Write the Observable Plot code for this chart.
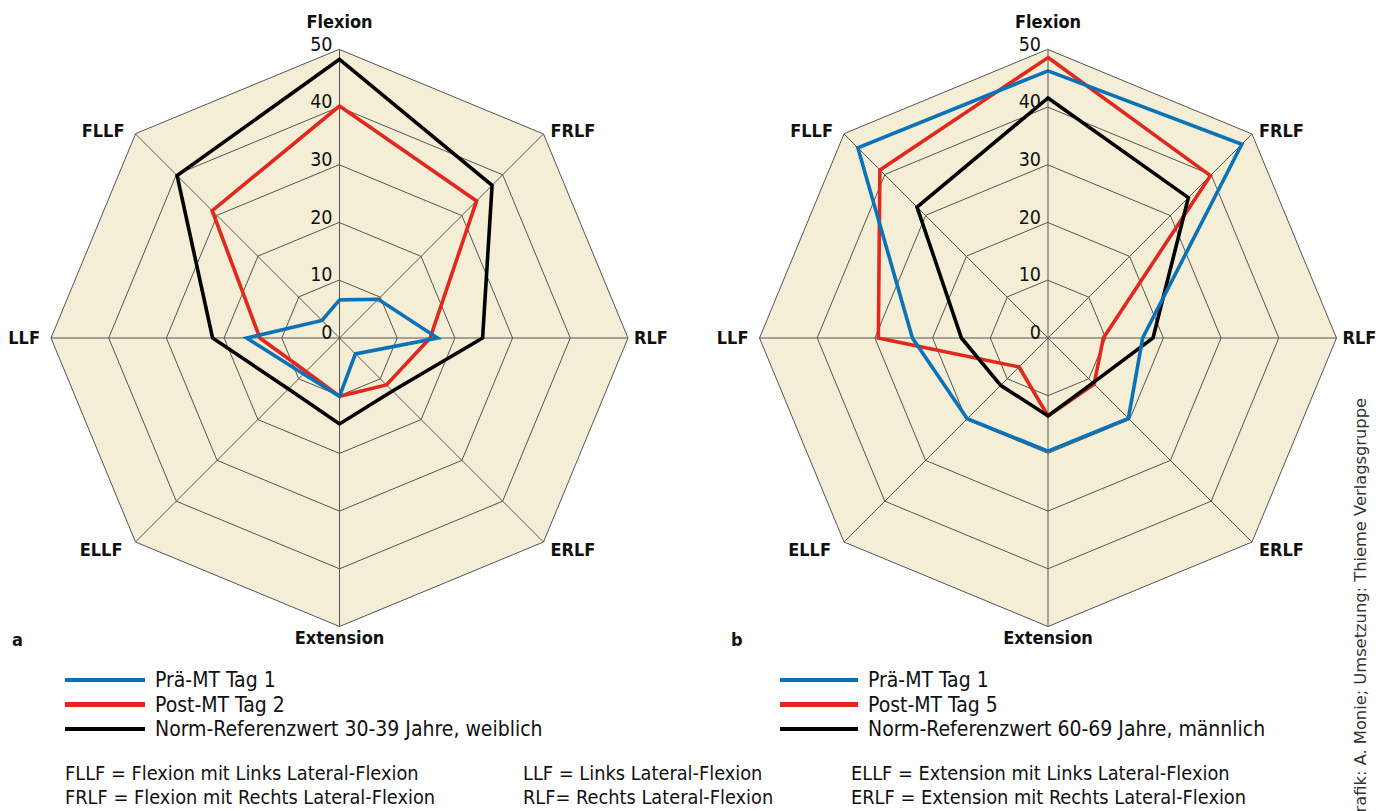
<!DOCTYPE html>
<html>
<head>
<meta charset="utf-8">
<script src="https://cdn.jsdelivr.net/npm/d3@7"></script>
<script src="https://cdn.jsdelivr.net/npm/@observablehq/plot@0.6"></script>
<style>
  html, body { margin: 0; padding: 0; background: #fff; }
  body { width: 1386px; height: 811px; overflow: hidden; position: relative;
         font-family: "DejaVu Sans Condensed", "DejaVu Sans", sans-serif; font-stretch: condensed; color: #111; }
  .chart { position: absolute; top: 0; }
  .row { position: absolute; height: 24px; display: flex; align-items: center; font-size: 21px; white-space: nowrap; }
  .sw { display: inline-block; height: 4.5px; margin-right: 10px; }
  .txt { position: absolute; font-size: 19.8px; white-space: nowrap; line-height: 24px; }
  .panel { position: absolute; font-weight: bold; font-size: 18px; line-height: 20px; }
  .credit { position: absolute; left: 1351px; top: 398px; writing-mode: vertical-rl; transform: rotate(180deg);
            font-family: "DejaVu Sans", sans-serif; font-stretch: normal; font-size: 16.3px; line-height: 20px; color: #333; white-space: nowrap; }
</style>
</head>
<body>
<div id="left" class="chart" style="left:0px"></div>
<div id="right" class="chart" style="left:700px"></div>
<div class="panel" style="left:12px; top:630px">a</div>
<div class="panel" style="left:731px; top:630px">b</div>
<div id="legendA"></div>
<div id="legendB"></div>
<div class="txt" style="left:65px; top:762px">FLLF = Flexion mit Links Lateral-Flexion</div>
<div class="txt" style="left:65px; top:786px">FRLF = Flexion mit Rechts Lateral-Flexion</div>
<div class="txt" style="left:523px; top:762px">LLF = Links Lateral-Flexion</div>
<div class="txt" style="left:523px; top:786px">RLF= Rechts Lateral-Flexion</div>
<div class="txt" style="left:851px; top:762px">ELLF = Extension mit Links Lateral-Flexion</div>
<div class="txt" style="left:851px; top:786px">ERLF = Extension mit Rechts Lateral-Flexion</div>
<div class="credit">Grafik: A. Monie; Umsetzung: Thieme Verlagsgruppe</div>
<script>
// ---- data ----
const axes = ["Flexion", "FRLF", "RLF", "ERLF", "Extension", "ELLF", "LLF", "FLLF"];
const ringValues = [10, 20, 30, 40, 50];
const tickValues = [0, 10, 20, 30, 40, 50];

const seriesA = ["Prä-MT Tag 1", "Post-MT Tag 2", "Norm-Referenzwert 30-39 Jahre, weiblich"];
const praeA = [6.6, 9.5, 17.0, 3.9, 10.1, 8.8, 16.1, 4.3];
const postA = [40.2, 33.6, 15.7, 11.5, 10.1, 8.2, 13.8, 31.2];
const normA = [48.3, 37.4, 24.8, 13.0, 14.9, 12.5, 22.0, 39.8];

const seriesB = ["Prä-MT Tag 1", "Post-MT Tag 5", "Norm-Referenzwert 60-69 Jahre, männlich"];
const praeB = [46.3, 47.5, 16.4, 19.7, 19.6, 19.8, 23.5, 46.6];
const postB = [48.6, 39.8, 9.6, 11.3, 13.5, 7.1, 29.4, 41.2];
const normB = [41.6, 34.4, 18.2, 11.0, 13.5, 11.6, 15.0, 32.1];

const colors = ["#0a72b9", "#e2281d", "#000000"];

// ---- helpers ----
const ang = i => i * Math.PI / 4;
const px = (v, i) => v * Math.sin(ang(i));
const py = (v, i) => v * Math.cos(ang(i));
const maxV = 50;

function radar({cx, cy, width, height, names, prae, post, norm}) {
  const k = 5.77;
  const rings = ringValues.flatMap(r => axes.map((a, i) => ({ring: r, x: px(r, i), y: py(r, i)})));
  const outer = axes.map((a, i) => ({x: px(maxV, i), y: py(maxV, i)}));
  const spokes = axes.map((a, i) => ({axis: a, x: px(maxV, i), y: py(maxV, i)}));
  // draw order: post (red), norm (black), prae (blue)
  const lines = [
    ...post.map((v, i) => ({series: names[1], x: px(v, i), y: py(v, i)})),
    ...norm.map((v, i) => ({series: names[2], x: px(v, i), y: py(v, i)})),
    ...prae.map((v, i) => ({series: names[0], x: px(v, i), y: py(v, i)}))
  ];
  const lbl = name => spokes.filter(d => d.axis === name);
  const bold = {fontWeight: "bold", fontSize: 18, fill: "#111", text: "axis"};
  return Plot.plot({
    width, height, margin: 0,
    x: {domain: [-cx / k, (width - cx) / k], axis: null},
    y: {domain: [-(height - cy) / k, cy / k], axis: null},
    color: {domain: names, range: colors},
    style: {fontFamily: '"DejaVu Sans Condensed", "DejaVu Sans", sans-serif', background: "transparent", overflow: "visible"},
    marks: [
      Plot.line(outer, {x: "x", y: "y", curve: "linear-closed", fill: "#f4eed6", stroke: "none"}),
      Plot.line(rings, {x: "x", y: "y", z: "ring", curve: "linear-closed", stroke: "#555", strokeWidth: 1}),
      Plot.link(spokes, {x1: () => 0, y1: () => 0, x2: "x", y2: "y", stroke: "#555", strokeWidth: 1}),
      Plot.line(lines, {x: "x", y: "y", z: "series", stroke: "series", curve: "linear-closed", strokeWidth: 3.6, strokeLinejoin: "miter", strokeMiterlimit: 3}),
      Plot.text(tickValues, {x: () => 0, y: d => d, text: d => String(d), textAnchor: "end", lineAnchor: "bottom", dx: -7, dy: 1, fontSize: 19.5, fill: "#111"}),
      Plot.text(lbl("Flexion"), {x: "x", y: "y", ...bold, dy: -27}),
      Plot.text(lbl("Extension"), {x: "x", y: "y", ...bold, dy: 12}),
      Plot.text(lbl("FLLF"), {x: "x", y: "y", ...bold, textAnchor: "end", dx: -11, dy: -3}),
      Plot.text(lbl("LLF"), {x: "x", y: "y", ...bold, textAnchor: "end", dx: -11, dy: 0}),
      Plot.text(lbl("ELLF"), {x: "x", y: "y", ...bold, textAnchor: "end", dx: -13, dy: 8}),
      Plot.text(lbl("FRLF"), {x: "x", y: "y", ...bold, textAnchor: "start", dx: 7, dy: -3}),
      Plot.text(lbl("RLF"), {x: "x", y: "y", ...bold, textAnchor: "start", dx: 6, dy: 0}),
      Plot.text(lbl("ERLF"), {x: "x", y: "y", ...bold, textAnchor: "start", dx: 7, dy: 8})
    ]
  });
}

document.getElementById("left").append(radar({cx: 339, cy: 337.5, width: 700, height: 660, names: seriesA, prae: praeA, post: postA, norm: normA}));
document.getElementById("right").append(radar({cx: 347.5, cy: 337.5, width: 686, height: 660, names: seriesB, prae: praeB, post: postB, norm: normB}));

function legend(id, names, left, swLen) {
  const el = document.getElementById(id);
  names.forEach((n, i) => {
    const row = document.createElement("div");
    row.className = "row";
    row.style.left = left + "px";
    row.style.top = (668 + i * 24.5) + "px";
    const sw = document.createElement("span");
    sw.className = "sw";
    sw.style.width = swLen + "px";
    sw.style.background = colors[i];
    const t = document.createElement("span");
    t.textContent = n;
    row.append(sw, t);
    el.append(row);
  });
}
legend("legendA", seriesA, 65, 80);
legend("legendB", seriesB, 780, 78);
</script>
</body>
</html>
